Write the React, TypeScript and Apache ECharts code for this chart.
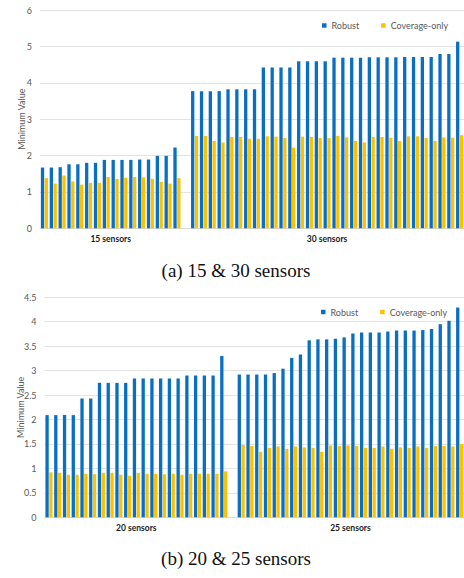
import React, { useEffect, useRef } from 'react';
import * as echarts from 'echarts';

const seriesNames = ['Robust', 'Coverage-only'];

// Panel (a): 15 & 30 sensors
const groupsA = ['15 sensors', '30 sensors'];
const robust15 = [1.67, 1.67, 1.68, 1.76, 1.76, 1.8, 1.8, 1.88, 1.88, 1.88, 1.88, 1.89, 1.89, 1.99, 1.99, 2.22];
const coverage15 = [1.38, 1.23, 1.45, 1.29, 1.2, 1.25, 1.25, 1.41, 1.36, 1.39, 1.41, 1.4, 1.36, 1.28, 1.23, 1.38];
const robust30 = [3.77, 3.77, 3.77, 3.77, 3.82, 3.82, 3.82, 3.82, 4.42, 4.42, 4.42, 4.42, 4.59, 4.59, 4.59, 4.59, 4.69, 4.69, 4.69, 4.69, 4.7, 4.7, 4.7, 4.7, 4.71, 4.71, 4.71, 4.71, 4.79, 4.79, 5.13];
const coverage30 = [2.54, 2.54, 2.4, 2.36, 2.51, 2.51, 2.46, 2.46, 2.53, 2.52, 2.48, 2.22, 2.52, 2.51, 2.48, 2.48, 2.54, 2.5, 2.4, 2.36, 2.51, 2.51, 2.49, 2.4, 2.53, 2.53, 2.48, 2.4, 2.5, 2.49, 2.56];
const yTicksA = { min: 0, max: 6, interval: 1 };

// Panel (b): 20 & 25 sensors
const groupsB = ['20 sensors', '25 sensors'];
const robust20 = [2.09, 2.09, 2.09, 2.09, 2.43, 2.43, 2.75, 2.75, 2.75, 2.75, 2.84, 2.84, 2.84, 2.84, 2.84, 2.84, 2.9, 2.9, 2.9, 2.9, 3.3];
const coverage20 = [0.92, 0.91, 0.87, 0.87, 0.89, 0.88, 0.91, 0.91, 0.87, 0.85, 0.91, 0.89, 0.89, 0.88, 0.89, 0.87, 0.89, 0.89, 0.89, 0.89, 0.94];
const robust25 = [2.92, 2.92, 2.92, 2.92, 2.95, 3.04, 3.26, 3.33, 3.62, 3.64, 3.64, 3.65, 3.68, 3.76, 3.78, 3.78, 3.78, 3.8, 3.82, 3.82, 3.82, 3.83, 3.85, 3.95, 4.02, 4.29];
const coverage25 = [1.48, 1.46, 1.34, 1.42, 1.45, 1.4, 1.45, 1.43, 1.42, 1.34, 1.47, 1.46, 1.47, 1.46, 1.42, 1.42, 1.45, 1.4, 1.43, 1.42, 1.45, 1.42, 1.46, 1.46, 1.45, 1.5];
const yTicksB = { min: 0, max: 4.5, interval: 0.5 };

const captions = ['(a) 15 & 30 sensors', '(b) 20 & 25 sensors'];

const BLUE = '#0b6fc1';
const GOLD = '#ffc000';
const TXT = '#595959';
const FONT = 'Lato, "Open Sans", sans-serif';

function buildPanel(
  idx: number,
  groups: string[],
  r1: number[], c1: number[], r2: number[], c2: number[],
  yt: { min: number; max: number; interval: number },
  grid: any, nameGap: number
) {
  const robust = [...r1, null, ...r2];
  const coverage = [...c1, null, ...c2];
  const cats = robust.map((_, i) => String(i + 1));
  const n = cats.length;
  const centers = [(r1.length - 1) / 2, r1.length + 1 + (r2.length - 1) / 2];
  const xCat = {
    type: 'category', gridIndex: idx, data: cats,
    axisLine: { show: true, lineStyle: { color: '#d9d9d9' } },
    axisTick: { show: false }, axisLabel: { show: false },
  };
  const xGroup = {
    type: 'value', gridIndex: idx, min: -0.5, max: n - 0.5, position: 'bottom',
    axisLine: { show: false }, axisTick: { show: false }, splitLine: { show: false },
    axisLabel: {
      show: true, customValues: centers, margin: 6,
      formatter: (v: number) => (Math.abs(v - centers[0]) < 0.01 ? groups[0] : groups[1]),
      color: '#1a1a1a', fontSize: 8.5, fontWeight: 'bold', fontFamily: FONT,
    },
  };
  const y = {
    type: 'value', gridIndex: idx, min: yt.min, max: yt.max, interval: yt.interval,
    name: 'Minimum Value', nameLocation: 'middle', nameGap, nameMoveOverlap: false,
    nameTextStyle: { color: TXT, fontSize: 9, fontFamily: FONT },
    axisLine: { show: false }, axisTick: { show: false },
    axisLabel: { color: TXT, fontSize: 9, fontFamily: FONT, margin: 8 },
    splitLine: { lineStyle: { color: '#e3e3e3', width: 1 } },
  };
  const series = [
    { name: seriesNames[0], type: 'bar', xAxisIndex: idx * 2, yAxisIndex: idx, data: robust, barWidth: 3.3, barGap: '15%', itemStyle: { color: BLUE } },
    { name: seriesNames[1], type: 'bar', xAxisIndex: idx * 2, yAxisIndex: idx, data: coverage, barWidth: 3.3, barGap: '15%', itemStyle: { color: GOLD } },
  ];
  return { grid, xAxes: [xCat, xGroup], y, series };
}

export default function App() {
  const ref = useRef<HTMLDivElement>(null);
  useEffect(() => {
    document.body.style.margin = '0';
    if (!ref.current) return;
    const chart = echarts.init(ref.current, null, { renderer: 'svg' });
    const a = buildPanel(0, groupsA, robust15, coverage15, robust30, coverage30, yTicksA,
      { left: 40, top: 10, width: 426, height: 218.3 }, 14);
    const b = buildPanel(1, groupsB, robust20, coverage20, robust25, coverage25, yTicksB,
      { left: 44.6, top: 297.3, width: 420.8, height: 220 }, 19.5);
    const legendCommon = {
      data: seriesNames, icon: 'rect', itemWidth: 4.5, itemHeight: 4.5, itemGap: 22,
      textStyle: { color: TXT, fontSize: 9, fontFamily: FONT },
    };
    chart.setOption({
      animation: false,
      backgroundColor: '#ffffff',
      grid: [a.grid, b.grid],
      xAxis: [...a.xAxes, ...b.xAxes],
      yAxis: [a.y, b.y],
      series: [...a.series, ...b.series],
      legend: [
        { ...legendCommon, left: 317, top: 16 },
        { ...legendCommon, left: 316, top: 302.5 },
      ],
      graphic: [
        { type: 'text', x: 236, y: 270, style: { text: captions[0], font: '19px "Liberation Serif", serif', fill: '#111', textAlign: 'center', textVerticalAlign: 'middle' } },
        { type: 'text', x: 236, y: 558, style: { text: captions[1], font: '19px "Liberation Serif", serif', fill: '#111', textAlign: 'center', textVerticalAlign: 'middle' } },
      ],
    });
    return () => chart.dispose();
  }, []);
  return <div ref={ref} style={{ width: 464, height: 578 }} />;
}
